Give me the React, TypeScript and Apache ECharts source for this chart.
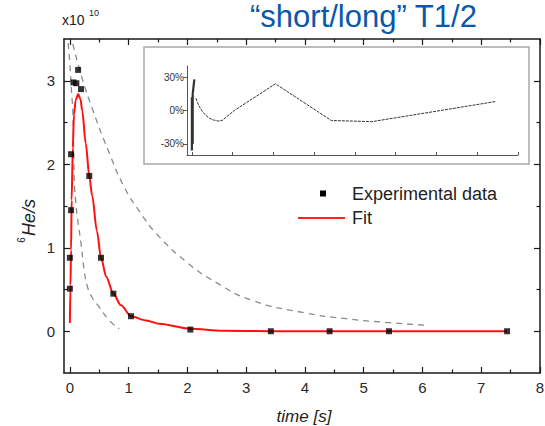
import React, { useEffect, useRef } from 'react';
import * as echarts from 'echarts';

// Experimental data (units of 1e10 atoms/s)
const dataT = [0, 0, 0.02, 0.02, 0.06, 0.11, 0.14, 0.19, 0.33, 0.53, 0.74, 1.04, 2.05, 3.42, 4.42, 5.43, 7.44];
const dataV = [0.51, 0.88, 1.45, 2.12, 2.98, 2.97, 3.13, 2.9, 1.86, 0.88, 0.45, 0.18, 0.02, 0, 0, 0, 0];

// Fit curve
const fitT = [0, 0.01, 0.02, 0.03, 0.05, 0.07, 0.1, 0.14, 0.18, 0.21, 0.27, 0.33, 0.38, 0.46, 0.53, 0.62, 0.74, 0.87, 1.04, 1.3, 1.52, 2.05, 2.6, 3.42, 4.42, 5.43, 7.44];
const fitV = [0.1, 0.55, 0.97, 1.57, 2.2, 2.6, 2.77, 2.84, 2.78, 2.64, 2.25, 1.86, 1.62, 1.2, 0.88, 0.65, 0.45, 0.31, 0.18, 0.13, 0.09, 0.03, 0.005, 0, 0, 0, 0];

// Dashed "long" and "short" half-life curves
const outerT = [0.05, 0.2, 0.4, 0.65, 0.93, 1.2, 1.47, 2.0, 2.5, 3.1, 4.0, 4.7, 5.3, 6.1];
const outerV = [3.44, 3.05, 2.63, 2.17, 1.72, 1.42, 1.17, 0.82, 0.58, 0.37, 0.22, 0.15, 0.11, 0.07];
const innerT = [-0.03, 0.0, 0.03, 0.05, 0.065, 0.08, 0.1, 0.13, 0.19, 0.24, 0.3, 0.4, 0.5, 0.67, 0.84];
const innerV = [3.45, 3.2, 2.85, 2.63, 2.15, 1.72, 1.55, 1.35, 1.05, 0.75, 0.53, 0.38, 0.29, 0.13, 0.03];

// Inset residuals (%)
const residEarlyT = [0, 0, 0.02, 0.02, 0.06];
const residEarlyV = [-36, 12, -30, 15, 28];
const residT = [0.1, 0.14, 0.19, 0.26, 0.33, 0.43, 0.53, 0.64, 0.74, 1.04, 2.05, 3.42, 4.42, 5.43, 7.44];
const residV = [11, 7, 3, -1, -4, -7, -8.5, -9.5, -9, 0, 24, -9, -10, -4, 8];

// Ticks
const xMajor = [0, 1, 2, 3, 4, 5, 6, 7, 8];
const xMinor = [0.5, 1.5, 2.5, 3.5, 4.5, 5.5, 6.5, 7.5];
const yMajor = [0, 1, 2, 3];
const yMinor = [0.5, 1.5, 2.5];
const insetYTicks = [-30, 0, 30];
const insetXTicks = [0, 1, 2, 3, 4, 5, 6, 7, 8];

const FONT = "'Liberation Sans', Arial, sans-serif";
const AXIS_COLOR = '#1a1a1a';

const zip = (a: number[], b: number[]) => a.map((v, i) => [v, b[i]]);

function mainX(position: string, ticks: number[], len: number, labels: boolean, line: boolean) {
  return {
    type: 'value', gridIndex: 0, position, min: -0.1, max: 8,
    axisLine: { show: line, onZero: false, lineStyle: { color: AXIS_COLOR, width: 1.5 } },
    axisTick: { show: true, inside: true, length: len, customValues: ticks, lineStyle: { color: AXIS_COLOR, width: 1.2 } },
    axisLabel: { show: labels, customValues: ticks, fontSize: 15, color: '#2a2a2a', fontFamily: FONT, margin: 7 },
    splitLine: { show: false },
  };
}
function mainY(position: string, ticks: number[], len: number, labels: boolean, line: boolean) {
  return {
    type: 'value', gridIndex: 0, position, min: -0.5, max: 3.5,
    axisLine: { show: line, onZero: false, lineStyle: { color: AXIS_COLOR, width: 1.5 } },
    axisTick: { show: true, inside: true, length: len, customValues: ticks, lineStyle: { color: AXIS_COLOR, width: 1.2 } },
    axisLabel: { show: labels, customValues: ticks, fontSize: 15, color: '#2a2a2a', fontFamily: FONT, margin: 9 },
    splitLine: { show: false },
  };
}

export default function App() {
  const ref = useRef<HTMLDivElement>(null);
  useEffect(() => {
    if (!ref.current) return;
    const chart = echarts.init(ref.current, undefined, { renderer: 'svg' });
    const option: any = {
      animation: false,
      backgroundColor: '#ffffff',
      grid: [
        { left: 64, right: 5, top: 39, bottom: 53, containLabel: false, outerBoundsMode: 'none' },
        { left: 187, top: 66, width: 331, height: 89, containLabel: false, outerBoundsMode: 'none' },
      ],
      xAxis: [
        mainX('bottom', xMajor, 6, true, true),
        mainX('bottom', xMinor, 3.5, false, false),
        mainX('top', xMajor, 6, false, true),
        mainX('top', xMinor, 3.5, false, false),
        {
          type: 'value', gridIndex: 1, position: 'bottom', min: -0.12, max: 8,
          axisLine: { show: true, onZero: false, lineStyle: { color: '#555', width: 1 } },
          axisTick: { show: true, inside: true, length: 3, customValues: insetXTicks, lineStyle: { color: '#555' } },
          axisLabel: { show: false },
          splitLine: { show: false },
        },
      ],
      yAxis: [
        mainY('left', yMajor, 6, true, true),
        mainY('left', yMinor, 3.5, false, false),
        mainY('right', yMajor, 6, false, true),
        mainY('right', yMinor, 3.5, false, false),
        {
          type: 'value', gridIndex: 1, position: 'left', min: -40, max: 40,
          axisLine: { show: true, onZero: false, lineStyle: { color: '#555', width: 1 } },
          axisTick: { show: true, inside: false, length: 4, customValues: insetYTicks, lineStyle: { color: '#555' } },
          axisLabel: { show: true, customValues: insetYTicks, formatter: (v: number) => `${v}%`, fontSize: 10, color: '#333', fontFamily: FONT, margin: 3 },
          splitLine: { show: false },
        },
      ],
      series: [
        {
          name: 'outer', type: 'line', xAxisIndex: 0, yAxisIndex: 0, data: zip(outerT, outerV),
          showSymbol: false, smooth: true, lineStyle: { color: '#8a8a8a', width: 1.3, type: [6, 5] }, z: 2,
        },
        {
          name: 'inner', type: 'line', xAxisIndex: 0, yAxisIndex: 0, data: zip(innerT, innerV),
          showSymbol: false, smooth: true, lineStyle: { color: '#8a8a8a', width: 1.3, type: [6, 5] }, z: 2,
        },
        {
          name: 'Fit', type: 'line', xAxisIndex: 0, yAxisIndex: 0, data: zip(fitT, fitV),
          showSymbol: false, smooth: 0.3, smoothMonotone: 'x', lineStyle: { color: '#ff1010', width: 2 }, z: 3,
        },
        {
          name: 'Experimental data', type: 'scatter', xAxisIndex: 0, yAxisIndex: 0, data: zip(dataT, dataV),
          symbol: 'rect', symbolSize: 6, itemStyle: { color: '#000' }, z: 4,
        },
        {
          name: 'residEarly', type: 'line', xAxisIndex: 4, yAxisIndex: 4, data: zip(residEarlyT, residEarlyV),
          showSymbol: false, lineStyle: { color: '#333', width: 2.2 },
        },
        {
          name: 'resid', type: 'line', xAxisIndex: 4, yAxisIndex: 4, data: zip(residT, residV),
          showSymbol: false, smooth: false, lineStyle: { color: '#333', width: 1, type: [3, 1] },
        },
      ],
      graphic: [
        { type: 'rect', shape: { x: 144, y: 47, width: 385, height: 117 }, style: { fill: 'none', stroke: '#a8a8a8', lineWidth: 1.5 }, z: 1 },
        { type: 'text', x: 250, y: 16, style: { text: '“short/long” T1/2', fontSize: 31, fontFamily: FONT, fill: '#0a58a8', verticalAlign: 'middle', align: 'left' } },
        { type: 'text', x: 62, y: 20, style: { text: 'x10', fontSize: 14, fontFamily: FONT, fill: '#222', verticalAlign: 'middle', align: 'left' } },
        { type: 'text', x: 89, y: 13, style: { text: '10', fontSize: 9, fontFamily: FONT, fill: '#222', verticalAlign: 'middle', align: 'left' } },
        {
          type: 'group', x: 29, y: 218, rotation: Math.PI / 2,
          children: [
            { type: 'text', x: -22, y: -8, style: { text: '6', fontSize: 10, fontFamily: FONT, fill: '#222', verticalAlign: 'middle', align: 'center' } },
            { type: 'text', x: -18, y: 0, style: { text: 'He/s', fontSize: 18, fontStyle: 'italic', fontFamily: FONT, fill: '#222', verticalAlign: 'middle', align: 'left' } },
          ],
        },
        { type: 'text', x: 304, y: 416, style: { text: 'time [s]', fontSize: 17, fontStyle: 'italic', fontFamily: FONT, fill: '#222', verticalAlign: 'middle', align: 'center' } },
        { type: 'rect', shape: { x: 320, y: 190.5, width: 6, height: 6 }, style: { fill: '#000' } },
        { type: 'text', x: 352, y: 193.5, style: { text: 'Experimental data', fontSize: 18, fontFamily: FONT, fill: '#222', verticalAlign: 'middle', align: 'left' } },
        { type: 'line', shape: { x1: 298, y1: 218, x2: 345, y2: 218 }, style: { stroke: '#ff2020', lineWidth: 2 } },
        { type: 'text', x: 352, y: 218, style: { text: 'Fit', fontSize: 18, fontFamily: FONT, fill: '#222', verticalAlign: 'middle', align: 'left' } },
      ],
    };
    chart.setOption(option);
    return () => chart.dispose();
  }, []);
  return <div ref={ref} style={{ width: 545, height: 426, position: 'absolute', left: 0, top: 0 }} />;
}
